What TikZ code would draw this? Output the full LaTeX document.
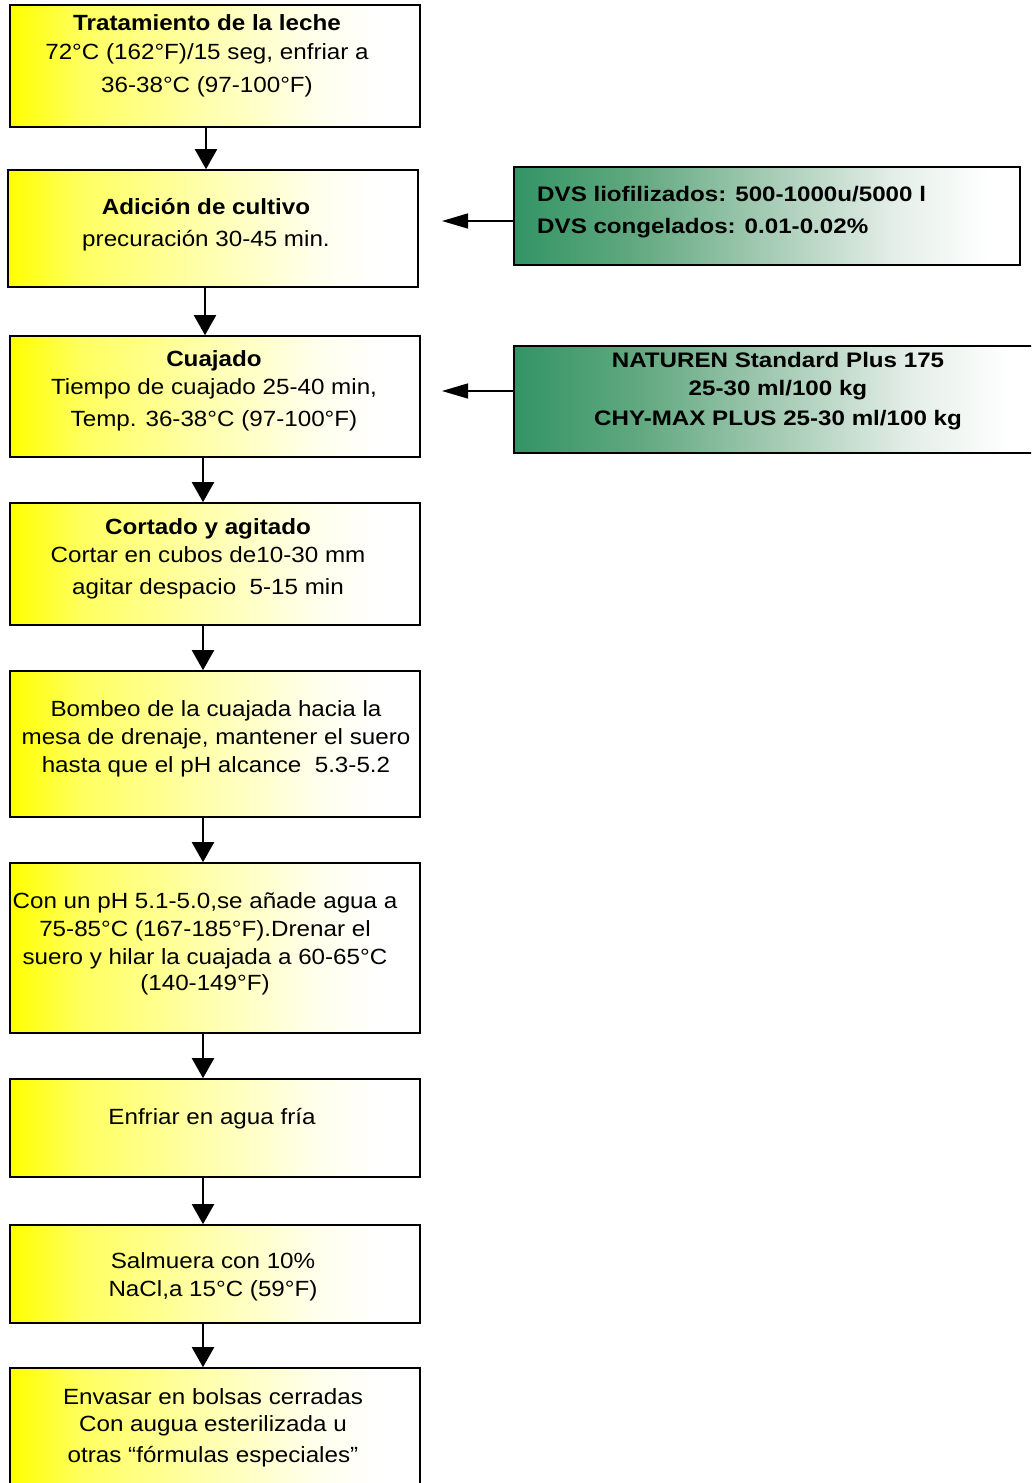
\documentclass[tikz,border=0pt]{standalone}
\usepackage{fontspec}
\setmainfont{Liberation Sans}[FakeStretch=1.1]
\newfontfamily\sidefont{Liberation Sans}[FakeStretch=1.15]
\usetikzlibrary{arrows.meta}
\definecolor{dgreen}{RGB}{50,148,100}
\definecolor{g2}{RGB}{100,170,130}
\definecolor{g3}{RGB}{165,203,180}
\definecolor{g4}{RGB}{228,238,232}
\pgfdeclarehorizontalshading{yshade}{100bp}{color(0bp)=(yellow); color(25bp)=(yellow); color(34bp)=(yellow!62); color(50bp)=(yellow!30); color(62bp)=(yellow!8); color(70bp)=(white); color(100bp)=(white)}
\pgfdeclarehorizontalshading{gshade}{100bp}{color(0bp)=(dgreen); color(25bp)=(dgreen); color(37.5bp)=(g2); color(50bp)=(g3); color(62.5bp)=(g4); color(72bp)=(white); color(100bp)=(white)}
\tikzset{
  ybox/.style={draw=black, line width=1.6pt, shading=yshade, rectangle, inner sep=0pt, minimum width=410pt},
  gbox/.style={draw=black, line width=1.6pt, shading=gshade, rectangle, inner sep=0pt},
  mtext/.style={anchor=base, align=center, inner sep=0pt, font=\fontsize{22}{28}\selectfont},
  stext/.style={inner sep=0pt, font=\sidefont\bfseries\fontsize{21}{28}\selectfont},
  varrow/.style={line width=2pt, -{Triangle[length=20pt,width=22pt]}},
  harrow/.style={line width=1.4pt, -{Triangle[length=26pt,width=15pt]}}
}
\begin{document}
\begin{tikzpicture}[x=1pt,y=-1pt]
\clip (0,0) rectangle (1031,1483);
\fill[white] (0,0) rectangle (1031,1483);
% main boxes
\node[ybox, minimum height=122pt] (b1) at (215,66) {};
\node[ybox, minimum height=117pt] (b2) at (213,228.5) {};
\node[ybox, minimum height=121pt] (b3) at (215,396.5) {};
\node[ybox, minimum height=122pt] (b4) at (215,564) {};
\node[ybox, minimum height=146pt] (b5) at (215,744) {};
\node[ybox, minimum height=170pt] (b6) at (215,948) {};
\node[ybox, minimum height=98pt] (b7) at (215,1128) {};
\node[ybox, minimum height=98pt] (b8) at (215,1274) {};
\node[ybox, minimum height=132pt] (b9) at (215,1434) {};
% side boxes
\node[gbox, minimum width=506pt, minimum height=98pt] (sA) at (767,216) {};
\node[gbox, minimum width=528pt, minimum height=107pt] (sB) at (778,399.5) {};
% texts (anchor = baseline of last line)
\node[mtext] (t1) at (207,92) {\textbf{Tratamiento de la leche}\\[1pt] 72°C (162°F)/15 seg, enfriar a\\[5pt] 36-38°C (97-100°F)};
\node[mtext] (t2) at (206,246) {\textbf{Adición de cultivo}\\[4pt] precuración 30-45 min.};
\node[mtext] (t3) at (214,426) {\textbf{Cuajado}\\ Tiempo de cuajado 25-40 min,\\[4pt] Temp. 36-38°C (97-100°F)};
\node[mtext] (t4) at (208,594) {\textbf{Cortado y agitado}\\ Cortar en cubos de10-30 mm\\[4pt] agitar despacio\ \ 5-15 min};
\node[mtext] (t5) at (216,772) {Bombeo de la cuajada hacia la\\ mesa de drenaje, mantener el suero\\ hasta que el pH alcance\ \ 5.3-5.2};
\node[mtext] (t6) at (205,990) {Con un pH 5.1-5.0,se añade agua a\\ 75-85°C (167-185°F).Drenar el\\ suero y hilar la cuajada a 60-65°C\\[-2pt] (140-149°F)};
\node[mtext] (t7) at (212,1124) {Enfriar en agua fría};
\node[mtext] (t8) at (213,1296) {Salmuera con 10\%\\ NaCl,a 15°C (59°F)};
\node[mtext] (t9) at (213,1462) {Envasar en bolsas cerradas\\[-1pt] Con augua esterilizada u\\[3pt] otras “fórmulas especiales”};
\node[stext, anchor=base west, align=left] (tA) at (537,233) {DVS liofilizados: 500-1000u/5000 l\\[4pt] DVS congelados: 0.01-0.02\%};
\node[stext, anchor=base, align=center] (tB) at (778,425) {NATUREN Standard Plus 175\\ 25-30 ml/100 kg\\[2pt] CHY-MAX PLUS 25-30 ml/100 kg};
% connectors
\coordinate (v1) at (206,0);
\coordinate (v2) at (205,0);
\coordinate (v3) at (203,0);
\draw[varrow] (b1.south -| v1) -- (b2.north -| v1);
\draw[varrow] (b2.south -| v2) -- (b3.north -| v2);
\draw[varrow] (b3.south -| v3) -- (b4.north -| v3);
\draw[varrow] (b4.south -| v3) -- (b5.north -| v3);
\draw[varrow] (b5.south -| v3) -- (b6.north -| v3);
\draw[varrow] (b6.south -| v3) -- (b7.north -| v3);
\draw[varrow] (b7.south -| v3) -- (b8.north -| v3);
\draw[varrow] (b8.south -| v3) -- (b9.north -| v3);
\coordinate (hA) at (442,221);
\coordinate (hB) at (442,391);
\draw[harrow] (sA.west |- hA) -- (hA);
\draw[harrow] (sB.west |- hB) -- (hB);
\end{tikzpicture}
\end{document}
